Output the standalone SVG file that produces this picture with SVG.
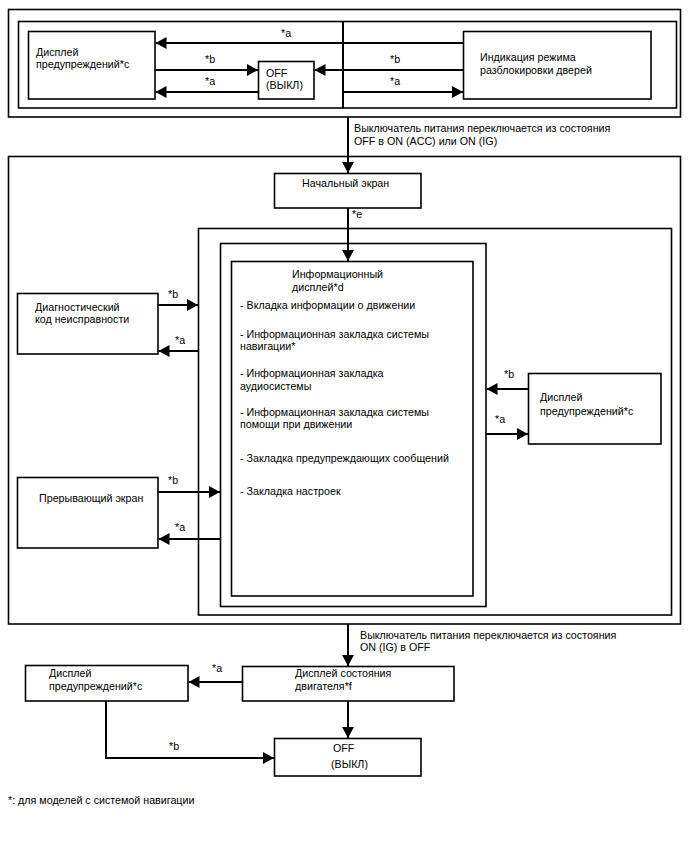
<svg xmlns="http://www.w3.org/2000/svg" width="688" height="852" viewBox="0 0 688 852">
<style>
  .box { fill: none; stroke: #000; stroke-width: 1.6; }
  .node rect { fill: #fff; stroke: #000; stroke-width: 1.6; }
  text { font-family: "Liberation Sans", Arial, sans-serif; font-size: 10.7px; fill: #000; }
  .conn line, .conn polyline { stroke: #000; stroke-width: 2; fill: none; }
  .arr { marker-end: url(#ah); }
</style>
<defs>
  <marker id="ah" markerUnits="userSpaceOnUse" markerWidth="11" markerHeight="12" refX="11" refY="6" orient="auto">
    <path d="M0,0 L11,6 L0,12 z" fill="#000"/>
  </marker>
</defs>
<rect width="688" height="852" fill="#fff"/>

<!-- frames -->
<g id="frames">
  <rect class="box" x="8.5" y="9.5" width="672" height="107.5"/>
  <rect class="box" x="18.5" y="21.5" width="658" height="86.5"/>
  <rect class="box" x="8.5" y="156.5" width="672" height="467.5"/>
  <rect class="box" x="198.5" y="228.5" width="473" height="386.5"/>
  <rect class="box" x="220.5" y="243.5" width="265.5" height="363"/>
</g>

<g id="n_warn_top" class="node">
  <rect x="28.5" y="31.5" width="126.5" height="67.5"/>
  <text x="36" y="56">Дисплей</text>
  <text x="36" y="68">предупреждений*c</text>
</g>
<g id="n_off_top" class="node">
  <rect x="258.5" y="61.5" width="55.5" height="37.5"/>
  <text x="266" y="77">OFF</text>
  <text x="266" y="89">(ВЫКЛ)</text>
</g>
<g id="n_door" class="node">
  <rect x="463.5" y="31.5" width="187.5" height="67.5"/>
  <text x="480" y="61">Индикация режима</text>
  <text x="480" y="74">разблокировки дверей</text>
</g>
<g id="n_start" class="node">
  <rect x="274.5" y="173.5" width="146.5" height="34.5"/>
  <text x="302" y="187">Начальный экран</text>
</g>
<g id="n_info" class="node">
  <rect x="231.5" y="261.5" width="241.5" height="334.5"/>
  <text x="292" y="278">Информационный</text>
  <text x="292" y="291">дисплей*d</text>
  <text x="240" y="309">- Вкладка информации о движении</text>
  <text x="240" y="338">- Информационная закладка системы</text>
  <text x="240" y="350">навигации*</text>
  <text x="240" y="377">- Информационная закладка</text>
  <text x="240" y="390">аудиосистемы</text>
  <text x="240" y="416">- Информационная закладка системы</text>
  <text x="240" y="428">помощи при движении</text>
  <text x="240" y="462">- Закладка предупреждающих сообщений</text>
  <text x="240" y="495">- Закладка настроек</text>
</g>
<g id="n_diag" class="node">
  <rect x="17.5" y="293.5" width="140.5" height="60.5"/>
  <text x="35" y="311">Диагностический</text>
  <text x="35" y="323">код неисправности</text>
</g>
<g id="n_interrupt" class="node">
  <rect x="17.5" y="477.5" width="140.5" height="70.5"/>
  <text x="39" y="502">Прерывающий экран</text>
</g>
<g id="n_warn_mid" class="node">
  <rect x="528.5" y="373.5" width="132.5" height="70.5"/>
  <text x="540" y="401">Дисплей</text>
  <text x="540" y="415">предупреждений*c</text>
</g>
<g id="n_engine" class="node">
  <rect x="242.5" y="666.5" width="211.5" height="34.5"/>
  <text x="295" y="677">Дисплей состояния</text>
  <text x="295" y="690">двигателя*f</text>
</g>
<g id="n_warn_bot" class="node">
  <rect x="25.5" y="665.5" width="162.5" height="35.5"/>
  <text x="49" y="677">Дисплей</text>
  <text x="49" y="690">предупреждений*c</text>
</g>
<g id="n_off_bot" class="node">
  <rect x="274.5" y="738.5" width="146.5" height="37.5"/>
  <text x="333" y="752">OFF</text>
  <text x="331" y="768">(ВЫКЛ)</text>
</g>

<g id="connectors" class="conn">
  <line x1="343" y1="21.5" x2="343" y2="108"/>
  <line class="arr" x1="463" y1="43" x2="155.5" y2="43"/>
  <line class="arr" x1="155" y1="70" x2="258" y2="70"/>
  <line class="arr" x1="463" y1="70" x2="314.5" y2="70"/>
  <line class="arr" x1="258" y1="92" x2="155.5" y2="92"/>
  <line class="arr" x1="343" y1="92" x2="463" y2="92"/>
  <line class="arr" x1="348" y1="117" x2="348" y2="173"/>
  <line class="arr" x1="348" y1="208" x2="348" y2="261"/>
  <line class="arr" x1="158" y1="305" x2="198" y2="305"/>
  <line class="arr" x1="198" y1="351" x2="158.5" y2="351"/>
  <line class="arr" x1="158" y1="492" x2="220" y2="492"/>
  <line class="arr" x1="220" y1="539" x2="158.5" y2="539"/>
  <line class="arr" x1="528" y1="389" x2="486.5" y2="389"/>
  <line class="arr" x1="486" y1="434" x2="528" y2="434"/>
  <line class="arr" x1="348" y1="624" x2="348" y2="666"/>
  <line class="arr" x1="242" y1="682" x2="188.5" y2="682"/>
  <line class="arr" x1="348" y1="701" x2="348" y2="738"/>
  <polyline class="arr" points="106,701 106,758 274,758"/>
</g>

<g id="labels">
  <text x="281" y="37">*a</text>
  <text x="205" y="63">*b</text>
  <text x="205" y="85">*a</text>
  <text x="390" y="63">*b</text>
  <text x="390" y="85">*a</text>
  <text x="354" y="132">Выключатель питания переключается из состояния</text>
  <text x="354" y="145">OFF в ON (ACC) или ON (IG)</text>
  <text x="352" y="218">*e</text>
  <text x="168" y="298">*b</text>
  <text x="175" y="344">*a</text>
  <text x="168" y="484">*b</text>
  <text x="175" y="531">*a</text>
  <text x="504" y="378">*b</text>
  <text x="495" y="423">*a</text>
  <text x="360" y="639">Выключатель питания переключается из состояния</text>
  <text x="360" y="651">ON (IG) в OFF</text>
  <text x="212" y="672">*a</text>
  <text x="169" y="750">*b</text>
  <text x="8" y="804">*: для моделей с системой навигации</text>
</g>
</svg>
